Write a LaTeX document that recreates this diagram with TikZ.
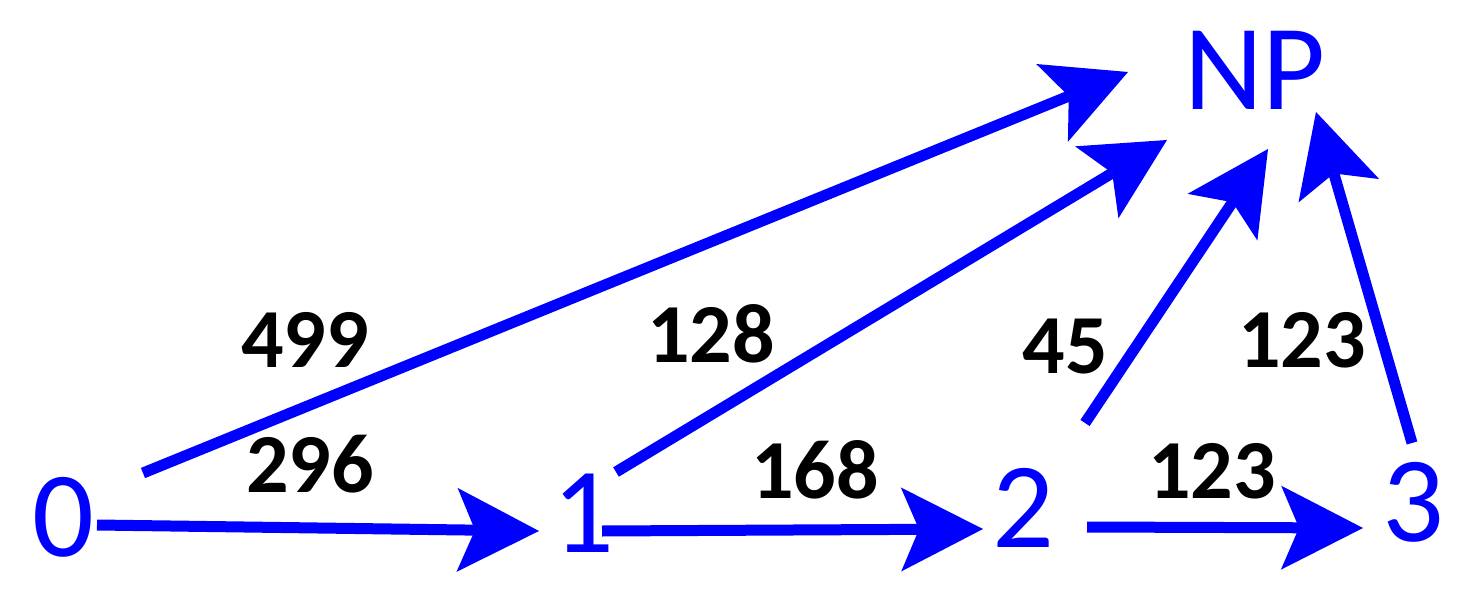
\documentclass[tikz,border=0pt]{standalone}
\usepackage{fontspec}
\setmainfont{Carlito}
\usetikzlibrary{arrows.meta}
\definecolor{pureblue}{RGB}{0,0,255}
\tikzset{
  state/.style={inner sep=0pt, outer sep=0pt, anchor=base, text=pureblue,
    font=\fontsize{61}{61}\selectfont},
  weight/.style={inner sep=0pt, outer sep=0pt, anchor=base, text=black,
    font=\bfseries\fontsize{42}{42}\selectfont},
  arr/.style={draw=pureblue, line width=5.5pt,
    -{Stealth[length=41pt, width=42pt, inset=9pt, line width=0pt, fill=pureblue]}}
}
\begin{document}
\begin{tikzpicture}[x=0.5pt, y=-0.5pt]
\useasboundingbox (0,0) rectangle (1460,609);
% states
\node[state] (n0) at (63,556) {0};
\node[state] (n1) at (583,552) {1};
\node[state] (n2) at (1023,547) {2};
\node[state] (n3) at (1413,541) {3};
\node[state] (np) at (1255,110) {NP};
% weights
\node[weight] (w499) at (305,367) {499};
\node[weight] (w296) at (310,492) {296};
\node[weight] (w128) at (711,362) {128};
\node[weight] (w168) at (815,498) {168};
\node[weight] (w45)  at (1065,373) {45};
\node[weight] (w123a) at (1302,367) {123};
\node[weight] (w123b) at (1212,498) {123};
% connectors
\draw[arr] ([shift={(34,-31)}]n0.base) -- ([shift={(-44,-21)}]n1.base);
\draw[arr] ([shift={(80,-83)}]n0.base) -- ([shift={(-127,-38)}]np.base);
\draw[arr] ([shift={(19,-21)}]n1.base) -- ([shift={(-40,-18)}]n2.base);
\draw[arr] ([shift={(33,-80)}]n1.base) -- ([shift={(-88,30)}]np.base);
\draw[arr] ([shift={(64,-20)}]n2.base) -- ([shift={(-50,-13)}]n3.base);
\draw[arr] ([shift={(62,-124)}]n2.base) -- ([shift={(13,39)}]np.base);
\draw[arr] ([shift={(-1,-98)}]n3.base) -- ([shift={(61,2)}]np.base);
\end{tikzpicture}
\end{document}
